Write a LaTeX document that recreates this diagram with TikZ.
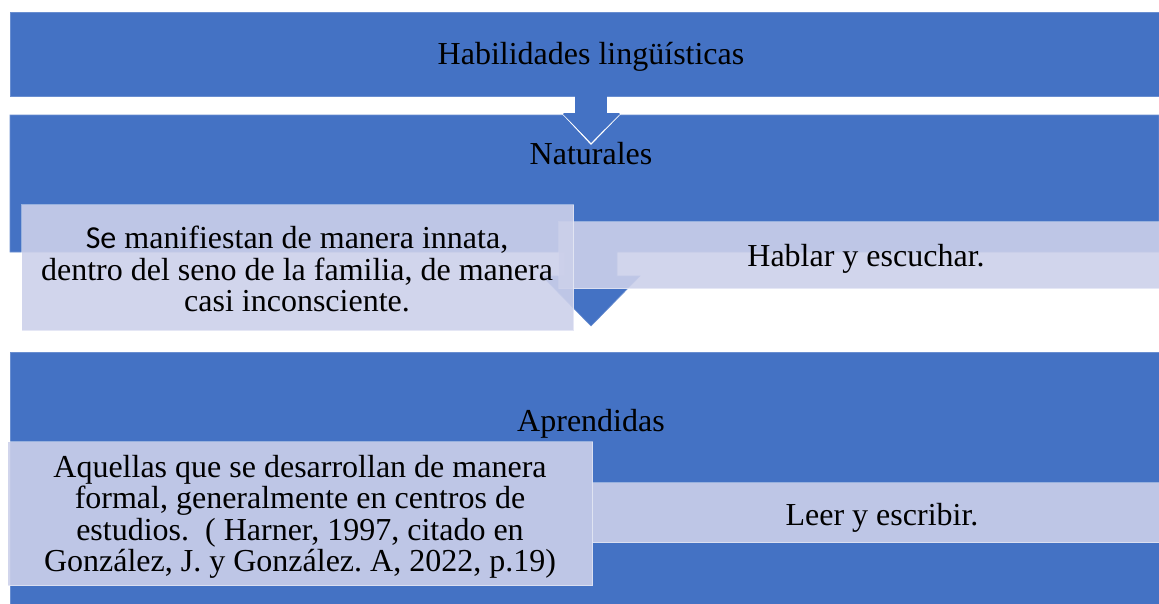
\documentclass[tikz,border=0pt]{standalone}
\usepackage{fontspec}
\setmainfont{Liberation Serif}
\newfontfamily\calib{Carlito}
\definecolor{bandblue}{RGB}{68,114,196}
\definecolor{boxfill}{RGB}{204,208,234}
\frenchspacing
\begin{document}
\begin{tikzpicture}[x=1pt,y=-1pt,
  band/.style={fill=bandblue, draw=bandblue!80!white, line width=0.6pt},
  lbox/.style={fill=boxfill, fill opacity=0.9, draw=white, draw opacity=0.45, line width=1pt, inner sep=0pt},
  txt/.style={font=\fontsize{32}{31.5}\selectfont, text=black, align=center, inner sep=0pt}]
\useasboundingbox (0,0) rectangle (1159,603);
% band 1
\node[band, minimum width=1149pt, minimum height=84pt, inner sep=0pt, anchor=north west] (b1) at (10,12) {};
\node[txt] (t1) at (591,57) {Habilidades lingüísticas};
% band 2 (down arrow callout)
\draw[band] (10,115) -- (1159,115) -- (1159,252) -- (617,252) -- (617,276) -- (640,276)
  -- (591,326) -- (542,276) -- (565,276) -- (565,252) -- (10,252) -- cycle;
\node[txt] (t2) at (591,154) {Naturales};
% arrow from band 1 to band 2
\fill[bandblue] (575,96) rectangle (607,114);
\coordinate (a1) at (591,144);
\draw[fill=bandblue, draw=white, line width=1.3pt, line join=miter] (562,113) -- (a1) -- (621,113);
\fill[bandblue] (563,114) -- (591,142.5) -- (620,114) -- cycle;
% band 3
\node[band, minimum width=1149pt, minimum height=260pt, inner sep=0pt, anchor=north west] (b3) at (10,352) {};
\node[txt] (t3) at (591,424) {Aprendidas};
% light boxes, Naturales
\node[lbox, minimum width=601pt, minimum height=67pt, anchor=north west] (hab) at (558,221) {};
\node[txt] (thab) at (866,259) {Hablar y escuchar.};
\node[lbox, minimum width=552pt, minimum height=126pt, anchor=north west] (se) at (21,204) {};
\node[txt] (tse) at (297,269) {{\calib Se} manifiestan de manera innata,\\dentro del seno de la familia, de manera\\casi inconsciente.};
% light boxes, Aprendidas
\node[lbox, minimum width=567pt, minimum height=60pt, anchor=north west] (leer) at (592,482) {};
\node[txt] (tleer) at (882,518) {Leer y escribir.};
\node[lbox, minimum width=585pt, minimum height=144pt, anchor=north west] (aq) at (7,441) {};
\node[txt] (taq) at (300,517) {Aquellas que se desarrollan de manera\\formal, generalmente en centros de\\estudios.\ \ ( Harner, 1997, citado en\\González, J. y González. A, 2022, p.19)};
\end{tikzpicture}
\end{document}
